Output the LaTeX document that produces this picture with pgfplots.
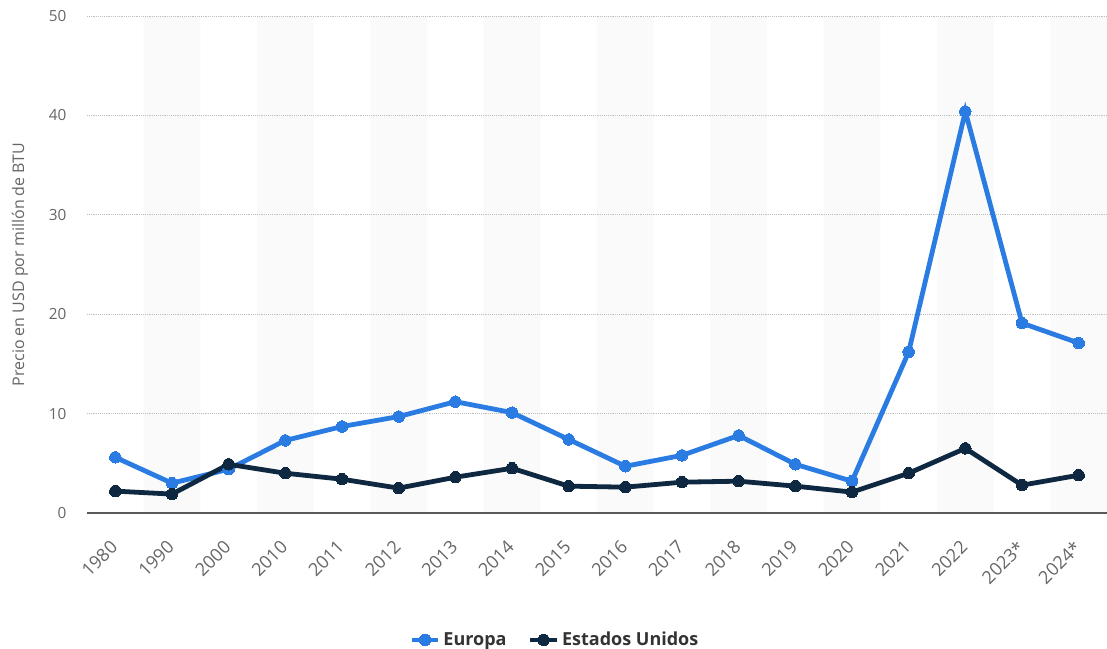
\documentclass[border=0pt]{standalone}
\usepackage{pgfplots}
\pgfplotsset{compat=1.18}
\usepackage{fontspec}
\setmainfont{Open Sans}
\definecolor{eu}{HTML}{2A7BE2}
\definecolor{us}{HTML}{0E2841}
\definecolor{band}{HTML}{FAFAFA}
\definecolor{tick}{HTML}{666666}
\begin{document}
\begin{tikzpicture}
\begin{axis}[
  at={(65.25pt,102pt)}, anchor=south west,
  scale only axis, width=765pt, height=372.75pt,
  set layers,
  xmin=-0.5, xmax=17.5, ymin=0, ymax=50,
  xtick={0,...,17},
  xticklabels={1980,1990,2000,2010,2011,2012,2013,2014,2015,2016,2017,2018,2019,2020,2021,2022,2023*,2024*},
  ytick={0,10,20,30,40,50},
  /pgf/number format/assume math mode=true,
  tick style={draw=none},
  axis x line*=bottom, axis y line*=left,
  x axis line style={draw=black!65, line width=1.3pt},
  y axis line style={draw=none},
  ymajorgrids, grid style={densely dotted, draw=black!25, line width=0.7pt},
  ticklabel style={text=tick},
  yticklabel style={xshift=-12pt, font=\fontsize{11.5}{13}\selectfont},
  xticklabel style={rotate=45, anchor=north east, inner sep=0pt, xshift=-17pt, yshift=-10.6pt, font=\fontsize{13.5}{15}\selectfont},
  ylabel={Precio en USD por millón de BTU},
  ylabel style={at={(axis description cs:-0.0657,0.5)}, anchor=center, font=\fontsize{12}{14}\selectfont, text=tick},
  legend style={at={(axis description cs:0.459,-0.2555)}, anchor=center, draw=none, fill=none,
    legend columns=2, font=\fontsize{13.5}{15}\selectfont\bfseries, text=black!80,
    /tikz/every even column/.append style={column sep=14pt}},
  legend image code/.code={\draw[#1, mark repeat=2, mark phase=2] plot coordinates {(0pt,0pt) (10pt,0pt) (20pt,0pt)};},
]
\addplot[ybar, bar width=1, fill=band, draw=none, on layer=axis background, forget plot]
  coordinates {(1,50)(3,50)(5,50)(7,50)(9,50)(11,50)(13,50)(15,50)(17,50)};
\addplot[eu, line width=3.6pt, mark=*, mark size=4.3pt, mark options={line width=0pt}]
  coordinates {(0,5.6)(1,3.0)(2,4.4)(3,7.3)(4,8.7)(5,9.7)(6,11.2)(7,10.1)(8,7.4)(9,4.7)(10,5.8)(11,7.8)(12,4.9)(13,3.2)(14,16.2)(15,40.4)(16,19.1)(17,17.1)};
\addlegendentry{Europa}
\addplot[us, line width=3.6pt, mark=*, mark size=4.3pt, mark options={line width=0pt}]
  coordinates {(0,2.2)(1,1.9)(2,4.9)(3,4.0)(4,3.4)(5,2.5)(6,3.6)(7,4.5)(8,2.7)(9,2.6)(10,3.1)(11,3.2)(12,2.7)(13,2.1)(14,4.0)(15,6.5)(16,2.8)(17,3.8)};
\addlegendentry{Estados Unidos}
\end{axis}
\pgfresetboundingbox
\path[use as bounding box] (0,0) rectangle (830.25pt,486.75pt);
\end{tikzpicture}
\end{document}
